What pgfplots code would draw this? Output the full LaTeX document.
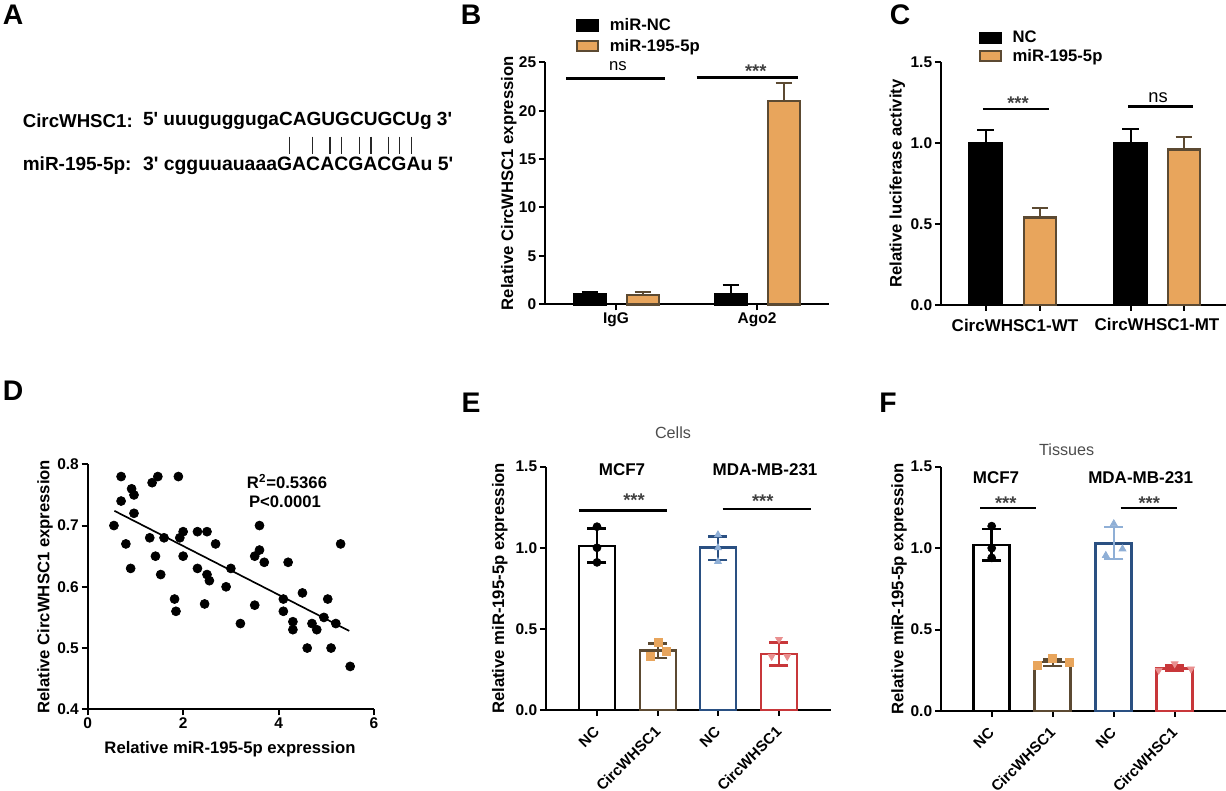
\documentclass[border=0pt]{standalone}
\usepackage{fontspec}
\setmainfont{Liberation Sans}
\usepackage{pgfplots}
\pgfplotsset{compat=1.18}

\definecolor{myorange}{HTML}{E8A55C}
\definecolor{mybrown}{HTML}{5C4A32}
\definecolor{myblue}{HTML}{2A5082}
\definecolor{myred}{HTML}{C8373A}
\definecolor{ltblue}{HTML}{8FAFD6}
\definecolor{ltred}{HTML}{E98F8F}

\newcommand{\tfont}{\fontsize{10}{12}\selectfont\bfseries}
\newcommand{\nfont}{\fontsize{9.3}{11}\selectfont\bfseries}
\newcommand{\starfont}{\fontsize{11}{13}\selectfont\bfseries}
\newcommand{\q}{\textquotesingle}

% 1 px of the picture = 0.6pt
\pgfplotsset{
  panel/.style={
    scale only axis, clip=false,
    axis lines=left,
    axis line style={-, line width=1.2pt, black},
    tick style={line width=1.2pt, black},
    major tick length=3.6pt,
    tick align=outside,
    tick label style={font=\nfont, inner sep=1.5pt},
    label style={font=\tfont},
    /pgf/number format/assume math mode=true,
    legend style={draw=none, fill=none, font=\tfont, inner sep=0pt, row sep=2.7pt, nodes={inner sep=0.5pt}},
    legend cell align=left,
    legend image code/.code={\draw[##1] (0pt,-3pt) rectangle (12.6pt,3pt);\path[draw=none, fill=none] (0pt,0pt) -- (19pt,0pt);},
  },
  onedec/.style={yticklabel style={/pgf/number format/.cd, fixed, fixed zerofill, precision=1}},
  rotlabels/.style={x tick label style={rotate=45, anchor=north east, font=\fontsize{9}{11}\selectfont\bfseries, yshift=-0.5pt, xshift=-4pt}},
  blackbar/.style={ybar, bar shift=0pt, draw=black, fill=black, line width=1.5pt, bar width=#1, forget plot},
  orangebar/.style={ybar, bar shift=0pt, draw=mybrown, fill=myorange, line width=1.5pt, bar width=#1, forget plot},
  openbar/.style={ybar, bar shift=0pt, draw=#1, fill=white, line width=1.6pt, bar width=21.6pt, forget plot},
  caps/.style n args={3}{forget plot, draw=none, mark=none,
    error bars/.cd, y dir=both, y explicit, error mark=|,
    error bar style={draw=#1, line width=#2, solid},
    error mark options={draw=#1, line width=#2, mark size=#3, solid}},
  sig/.style={black, line width=1.5pt, forget plot, mark=none},
  pts/.style n args={2}{only marks, mark=#1, mark size=2.4pt, forget plot,
    mark options={draw=#2, fill=#2}},
}

\begin{document}
\begin{tikzpicture}[x=0.6pt, y=0.6pt]
\path[use as bounding box] (0,0) rectangle (1226,791);

% panel letters
\foreach \l/\x/\y in {A/13/15, B/471/15, C/900/15, D/13/391, E/471/403, F/888/403}
  \node[font=\fontsize{17}{17}\selectfont\bfseries] at (\x, 791-\y) {\l};

% A: sequences
\node[anchor=west, inner sep=0pt, font=\fontsize{11.2}{13}\selectfont\bfseries] at (22.5, 791-120.7) {CircWHSC1:};
\node[anchor=west, inner sep=0pt, font=\fontsize{11.4}{13}\selectfont\bfseries] at (22.5, 791-165.7) {miR-195-5p:};
\node[anchor=west, inner sep=0pt, font=\fontsize{11.45}{13}\selectfont\bfseries] at (142.7, 791-120.7) {5\q{} uuuguggugaCAGUGCUGCUg 3\q};
\node[anchor=west, inner sep=0pt, font=\fontsize{11.65}{13}\selectfont\bfseries] at (142.7, 791-165.7) {3\q{} cgguuauaaaGACACGACGAu 5\q};
\foreach \x in {289.3,312.7,330,341.7,359.3,371,388.3,399.7,411.3}
  \draw[line width=0.8pt, black!85] (\x, 791-136.7) -- (\x, 791-154);

% B
\begin{axis}[panel, at={(327pt,292.02pt)}, anchor=south west,
  width=170.4pt, height=145.2pt,
  xmin=0, xmax=284, ymin=0, ymax=25,
  xtick={71,212}, xticklabels={IgG,Ago2},
  ytick={0,5,10,15,20,25},
  ylabel={Relative CircWHSC1 expression},
  y label style={at={(axis description cs:-0.127,0.5)}, anchor=center},
  legend style={at={(axis description cs:0.109,1.187)}, anchor=north west}]
\addlegendimage{draw=black, fill=black, line width=1.3pt}
\addlegendentry{miR-NC}
\addlegendimage{draw=mybrown, fill=myorange, line width=1.3pt}
\addlegendentry{miR-195-5p}
\addplot[caps={black}{1.3pt}{5pt}] coordinates {(45,1.0) += (0,0.25) -= (0,0) (186,1.0) += (0,1.0) -= (0,0)};
\addplot[caps={mybrown}{1.3pt}{5pt}] coordinates {(98,0.95) += (0,0.3) -= (0,0) (239,21) += (0,1.9) -= (0,0)};
\addplot[blackbar=19.2pt] coordinates {(45,1.0) (186,1.0)};
\addplot[orangebar=19.2pt] coordinates {(98,0.95) (239,21)};
\addplot[sig] coordinates {(21,23.35) (120,23.35)};
\addplot[sig] coordinates {(151.7,23.45) (253,23.45)};
\end{axis}
\node[font=\fontsize{10}{12}\selectfont] at (618, 791-66) {ns};
\node[font=\starfont, text=black!75] at (755.7, 791-71) {***};

% C
\begin{axis}[panel, onedec, at={(564.6pt,291.6pt)}, anchor=south west,
  width=169.8pt, height=145.6pt,
  xmin=0, xmax=283, ymin=0, ymax=1.5,
  xtick={44,97.5,186.5,239}, xticklabels={,,,},
  ytick={0,0.5,1,1.5},
  ylabel={Relative luciferase activity},
  y label style={at={(axis description cs:-0.152,0.5)}, anchor=center},
  legend style={at={(axis description cs:0.131,1.133)}, anchor=north west, row sep=1.2pt}]
\addlegendimage{draw=black, fill=black, line width=1.3pt}
\addlegendentry{NC}
\addlegendimage{draw=mybrown, fill=myorange, line width=1.3pt}
\addlegendentry{miR-195-5p}
\addplot[caps={black}{1.3pt}{5pt}] coordinates {(44,1.0) += (0,0.08) -= (0,0) (186.5,1.0) += (0,0.09) -= (0,0)};
\addplot[caps={mybrown}{1.3pt}{5pt}] coordinates {(97.5,0.54) += (0,0.06) -= (0,0) (239,0.96) += (0,0.08) -= (0,0)};
\addplot[blackbar=19.2pt] coordinates {(44,1.0) (186.5,1.0)};
\addplot[orangebar=19.2pt] coordinates {(97.5,0.54) (239,0.96)};
\addplot[sig] coordinates {(41.3,1.213) (106.3,1.213)};
\addplot[sig] coordinates {(184.3,1.226) (247.7,1.226)};
\end{axis}
\node[font=\fontsize{10.2}{12}\selectfont\bfseries] at (1015, 791-325) {CircWHSC1-WT};
\node[font=\fontsize{10.2}{12}\selectfont\bfseries] at (1157, 791-324) {CircWHSC1-MT};
\node[font=\starfont, text=black!75] at (1018, 791-103) {***};
\node[font=\fontsize{11}{13}\selectfont] at (1158, 791-98) {ns};

% D
\begin{axis}[panel, onedec, at={(52.62pt,49.02pt)}, anchor=south west,
  width=171.8pt, height=147pt,
  xmin=0, xmax=6, ymin=0.4, ymax=0.8,
  xtick={0,2,4,6}, ytick={0.4,0.5,0.6,0.7,0.8},
  xlabel={Relative miR-195-5p expression},
  ylabel={Relative CircWHSC1 expression},
  x label style={at={(axis description cs:0.497,-0.162)}, anchor=center},
  y label style={at={(axis description cs:-0.149,0.5)}, anchor=center}]
\addplot[only marks, mark=*, mark size=2.7pt, mark options={draw=black, fill=black}, forget plot] coordinates {
(0.55,0.70) (0.7,0.78) (0.7,0.74) (0.8,0.67) (0.9,0.63) (0.92,0.76) (0.97,0.75) (0.97,0.72)
(1.3,0.68) (1.35,0.77) (1.42,0.65) (1.47,0.78) (1.53,0.62) (1.6,0.68) (1.82,0.58) (1.85,0.56)
(1.9,0.78) (1.93,0.68) (2.0,0.69) (2.0,0.65) (2.3,0.69) (2.3,0.63) (2.45,0.572) (2.5,0.69)
(2.5,0.62) (2.55,0.61) (2.68,0.67) (2.9,0.60) (3.0,0.63) (3.2,0.54) (3.5,0.65) (3.5,0.57)
(3.6,0.66) (3.6,0.70) (3.7,0.64) (4.1,0.58) (4.1,0.56) (4.2,0.64) (4.3,0.543) (4.3,0.53)
(4.5,0.59) (4.6,0.50) (4.7,0.54) (4.8,0.53) (4.95,0.55) (5.03,0.58) (5.1,0.50) (5.2,0.54)
(5.3,0.67) (5.5,0.47)};
\addplot[black, line width=1pt, forget plot] coordinates {(0.56,0.724) (5.48,0.528)};
\end{axis}
\node[font=\tfont] at (287, 791-482) {R\textsuperscript{2}=0.5366};
\node[font=\tfont] at (285, 791-502) {P<0.0001};

% E
\begin{axis}[panel, onedec, rotlabels, at={(327.6pt,48.6pt)}, anchor=south west,
  width=170.8pt, height=146pt,
  xmin=0, xmax=284.7, ymin=0, ymax=1.5,
  xtick={51,112,172,233}, xticklabels={NC,CircWHSC1,NC,CircWHSC1},
  ytick={0,0.5,1,1.5},
  ylabel={Relative miR-195-5p expression},
  y label style={at={(axis description cs:-0.162,0.5)}, anchor=center}]
\addplot[openbar=black] coordinates {(51,1.01)};
\addplot[openbar=mybrown] coordinates {(112,0.365)};
\addplot[openbar=myblue] coordinates {(172,1.0)};
\addplot[openbar=myred] coordinates {(233,0.345)};
\addplot[pts={*}{black}] coordinates {(51,1.13) (51,1.0) (51,0.91)};
\addplot[pts={square*}{myorange}] coordinates {(112,0.415) (104,0.33) (120,0.36)};
\addplot[pts={triangle*}{ltblue}] coordinates {(172,1.08) (172,1.0) (172,0.915)};
\addplot[pts={triangle*}{ltred}, mark options={draw=ltred, fill=ltred, rotate=180}] coordinates {(233,0.435) (225.7,0.33) (241.3,0.33)};
\addplot[caps={black}{1.5pt}{5.7pt}] coordinates {(51,1.01) += (0,0.11) -= (0,0.10)};
\addplot[caps={mybrown}{1.5pt}{5.7pt}] coordinates {(112,0.365) += (0,0.045) -= (0,0.045)};
\addplot[caps={myblue}{1.5pt}{5.7pt}] coordinates {(172,1.0) += (0,0.07) -= (0,0.075)};
\addplot[caps={myred}{1.5pt}{5.7pt}] coordinates {(233,0.345) += (0,0.07) -= (0,0.07)};
\addplot[sig] coordinates {(33,1.229) (120.7,1.229)};
\addplot[sig] coordinates {(176.7,1.239) (265.3,1.239)};
\end{axis}
\node[font=\fontsize{9.7}{12}\selectfont, text=black!70] at (673, 791-433) {Cells};
\node[font=\fontsize{10.2}{12}\selectfont\bfseries] at (622, 791-470) {MCF7};
\node[font=\fontsize{10.2}{12}\selectfont\bfseries] at (765, 791-470) {MDA-MB-231};
\node[font=\starfont, text=black!75] at (634, 791-500) {***};
\node[font=\starfont, text=black!75] at (762.7, 791-501) {***};

% F
\begin{axis}[panel, onedec, rotlabels, at={(564.6pt,48pt)}, anchor=south west,
  width=171pt, height=146.6pt,
  xmin=0, xmax=285, ymin=0, ymax=1.5,
  xtick={50.7,111.8,172.8,233.7}, xticklabels={NC,CircWHSC1,NC,CircWHSC1},
  ytick={0,0.5,1,1.5},
  ylabel={Relative miR-195-5p expression},
  y label style={at={(axis description cs:-0.147,0.5)}, anchor=center}]
\addplot[openbar=black] coordinates {(50.7,1.02)};
\addplot[openbar=mybrown] coordinates {(111.8,0.30)};
\addplot[openbar=myblue] coordinates {(172.8,1.03)};
\addplot[openbar=myred] coordinates {(233.7,0.262)};
\addplot[pts={*}{black}] coordinates {(50.7,1.135) (50.7,1.0) (50.7,0.94)};
\addplot[pts={square*}{myorange}] coordinates {(111.8,0.325) (96,0.278) (128.5,0.30)};
\addplot[pts={triangle*}{ltblue}] coordinates {(172.8,1.15) (164.8,0.955) (181.5,0.995)};
\addplot[pts={triangle*}{ltred}, mark options={draw=ltred, fill=ltred, rotate=180}] coordinates {(233.7,0.29) (217.7,0.25) (250,0.258)};
\addplot[caps={black}{1.5pt}{5.7pt}] coordinates {(50.7,1.02) += (0,0.097) -= (0,0.097)};
\addplot[caps={mybrown}{1.5pt}{5.7pt}] coordinates {(111.8,0.30) += (0,0.017) -= (0,0.024)};
\addplot[caps={ltblue}{1pt}{5.7pt}] coordinates {(172.8,1.03) += (0,0.10) -= (0,0.095)};
\addplot[caps={myred}{1.5pt}{5.7pt}] coordinates {(233.7,0.262) += (0,0.018) -= (0,0.014)};
\addplot[sig] coordinates {(39.3,1.245) (95.3,1.245)};
\addplot[sig] coordinates {(179.7,1.245) (236,1.245)};
\end{axis}
\node[font=\fontsize{9.7}{12}\selectfont, text=black!70] at (1066.7, 791-450) {Tissues};
\node[font=\fontsize{10.2}{12}\selectfont\bfseries] at (996, 791-478) {MCF7};
\node[font=\fontsize{10.2}{12}\selectfont\bfseries] at (1140.7, 791-478) {MDA-MB-231};
\node[font=\starfont, text=black!75] at (1005.7, 791-503) {***};
\node[font=\starfont, text=black!75] at (1149.3, 791-503) {***};
\end{tikzpicture}
\end{document}
